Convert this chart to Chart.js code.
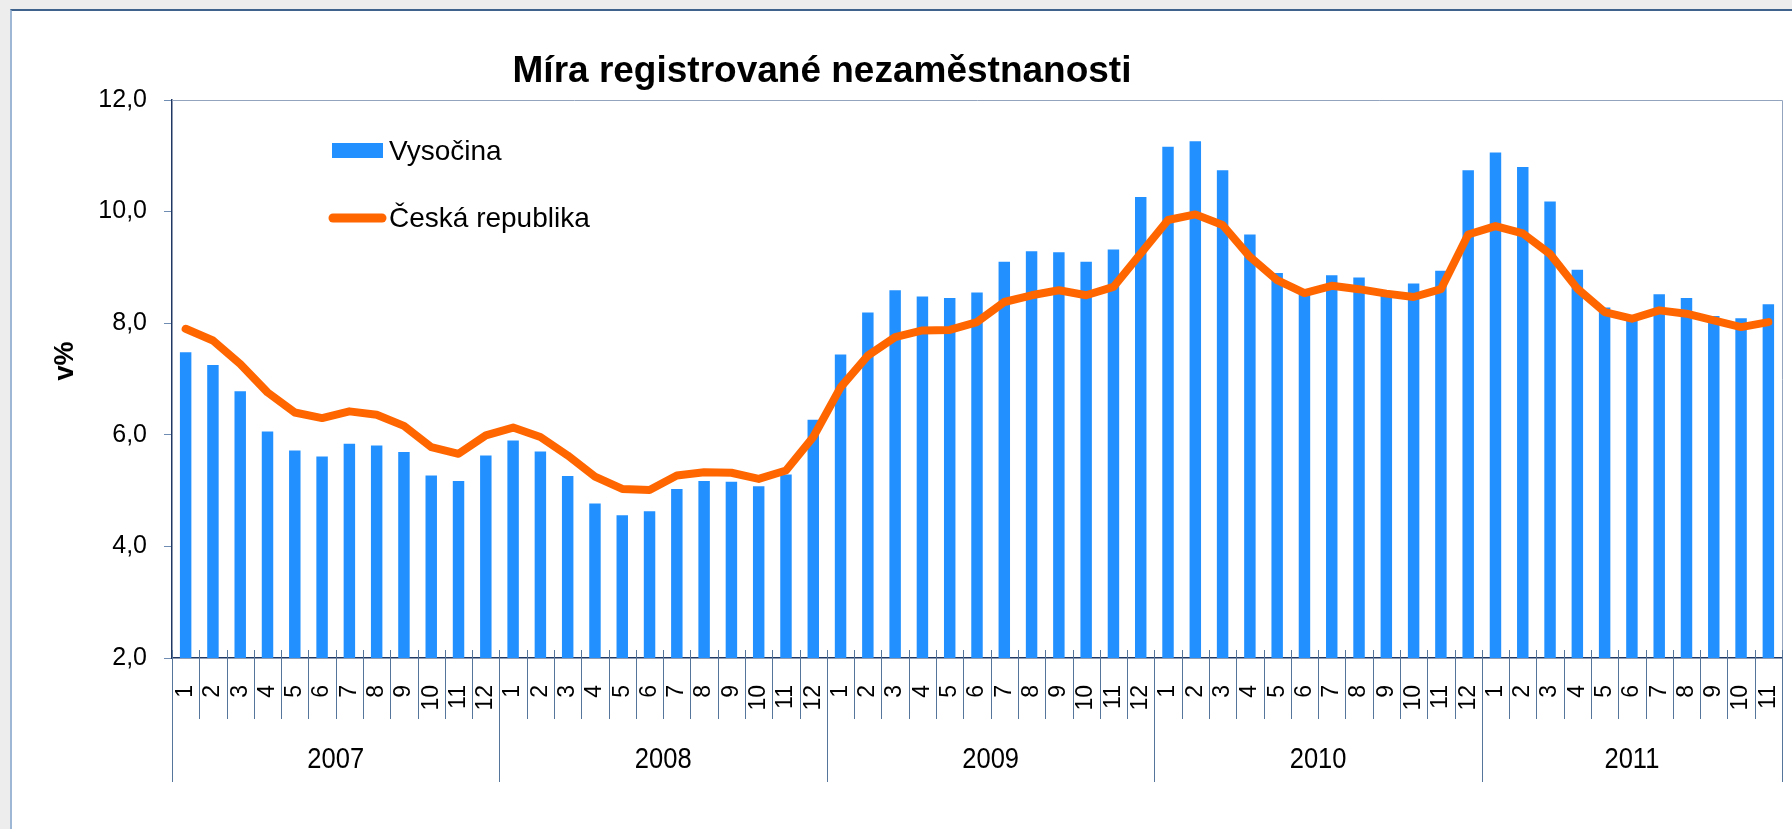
<!DOCTYPE html>
<html>
<head>
<meta charset="utf-8">
<script src="https://cdn.jsdelivr.net/npm/chart.js@4/dist/chart.umd.min.js"></script>
<style>
  html, body { margin: 0; padding: 0; background: #ededed; overflow: hidden; }
  #frame { position: absolute; left: 10px; top: 9px; width: 1782px; height: 820px; background: #fff;
           border-top: 2px solid #3f628c; border-left: 2px solid #9db7d4; }
  #chartBars { position: absolute; left: 0; top: 0; }
</style>
</head>
<body>
<div id="frame"></div>
<canvas id="chartBars" width="1792" height="829"></canvas>
<script>
const title = 'Míra registrované nezaměstnanosti'
const yTitle = 'v%'
const years = ['2007', '2008', '2009', '2010', '2011']
const monthsInYear = [12, 12, 12, 12, 11]
const monthLabels = [
  '1', '2', '3', '4', '5', '6', '7', '8', '9', '10', '11', '12',
  '1', '2', '3', '4', '5', '6', '7', '8', '9', '10', '11', '12',
  '1', '2', '3', '4', '5', '6', '7', '8', '9', '10', '11', '12',
  '1', '2', '3', '4', '5', '6', '7', '8', '9', '10', '11', '12',
  '1', '2', '3', '4', '5', '6', '7', '8', '9', '10', '11'
]

// Vysočina (bars)
const vysocina = [
  7.48, 7.25, 6.78, 6.06, 5.72, 5.61, 5.84, 5.81, 5.69, 5.27, 5.17, 5.63,
  5.90, 5.70, 5.26, 4.77, 4.56, 4.63, 5.03, 5.17, 5.16, 5.08, 5.29, 6.27,
  7.44, 8.19, 8.59, 8.48, 8.45, 8.55, 9.10, 9.29, 9.27, 9.10, 9.32, 10.26,
  11.16, 11.26, 10.74, 9.59, 8.90, 8.55, 8.86, 8.82, 8.55, 8.71, 8.94, 10.74,
  11.06, 10.80, 10.18, 8.96, 8.28, 8.08, 8.52, 8.45, 8.13, 8.09, 8.34
]

// Česká republika (line)
const ceskaRepublika = [
  7.90, 7.69, 7.27, 6.76, 6.40, 6.30, 6.42, 6.36, 6.16, 5.78, 5.66, 5.99,
  6.13, 5.96, 5.63, 5.25, 5.03, 5.01, 5.27, 5.33, 5.32, 5.21, 5.36, 5.96,
  6.85, 7.42, 7.75, 7.87, 7.88, 8.02, 8.38, 8.50, 8.59, 8.50, 8.65, 9.25,
  9.85, 9.95, 9.76, 9.19, 8.77, 8.54, 8.67, 8.61, 8.53, 8.47, 8.61, 9.59,
  9.74, 9.61, 9.24, 8.62, 8.20, 8.08, 8.23, 8.17, 8.05, 7.93, 8.02
]

const yTicks = [2, 4, 6, 8, 10, 12]

const FONT = '"Liberation Sans", Arial, sans-serif'
const BLUE = '#2291ff'
const ORANGE = '#ff6600'
const AXIS = '#1f3864'
const SEP = '#56759b'

// title, axis title, legend, month / year separators
const decor = {
  id: 'decor',
  afterDraw (chart) {
    const ctx = chart.ctx
    const xs = chart.scales.x
    const area = chart.chartArea
    ctx.save()

    // frame top + right
    ctx.strokeStyle = '#93a5be'
    ctx.lineWidth = 1
    ctx.beginPath()
    ctx.moveTo(area.left, area.top + 0.5)
    ctx.lineTo(area.right + 0.5, area.top + 0.5)
    ctx.lineTo(area.right + 0.5, area.bottom)
    ctx.stroke()

    // separators under the x axis
    const step = xs.getPixelForValue(1) - xs.getPixelForValue(0)
    const yearStarts = [0]
    monthsInYear.forEach((n, i) => yearStarts.push(yearStarts[i] + n))
    ctx.strokeStyle = SEP
    for (let i = 0; i <= monthLabels.length; i++) {
      const x = Math.round(xs.getPixelForValue(0) - step / 2 + i * step) + 0.5
      const isYear = yearStarts.includes(i)
      ctx.beginPath()
      ctx.moveTo(x, area.bottom - 8)
      ctx.lineTo(x, isYear ? 782 : 719)
      ctx.stroke()
    }

    // year labels
    ctx.fillStyle = '#000'
    ctx.textAlign = 'center'
    ctx.textBaseline = 'middle'
    years.forEach((y, i) => {
      const x0 = xs.getPixelForValue(yearStarts[i]) - step / 2
      const x1 = xs.getPixelForValue(yearStarts[i + 1] - 1) + step / 2
      ctx.save()
      ctx.translate((x0 + x1) / 2, 760)
      ctx.scale(0.88, 1)
      ctx.font = '29px ' + FONT
      ctx.fillText(y, 0, 0)
      ctx.restore()
    })

    // title
    ctx.font = 'bold 37px ' + FONT
    ctx.textBaseline = 'alphabetic'
    ctx.fillText(title, 822, 82)

    // y axis title
    ctx.save()
    ctx.translate(66, 361)
    ctx.rotate(-Math.PI / 2)
    ctx.font = 'bold 27px ' + FONT
    ctx.textBaseline = 'middle'
    ctx.fillText(yTitle, 0, 0)
    ctx.restore()

    // legend
    const bar = chart.data.datasets[1]
    const line = chart.data.datasets[0]
    ctx.textAlign = 'left'
    ctx.textBaseline = 'middle'
    ctx.font = '28px ' + FONT
    ctx.fillStyle = bar.backgroundColor
    ctx.fillRect(332, 143, 51, 15)
    ctx.fillStyle = '#000'
    ctx.fillText(bar.label, 389, 152)
    ctx.strokeStyle = line.borderColor
    ctx.lineWidth = 9
    ctx.lineCap = 'round'
    ctx.beginPath()
    ctx.moveTo(333, 218)
    ctx.lineTo(382, 218)
    ctx.stroke()
    ctx.fillText(line.label, 389, 219)

    ctx.restore()
  }
}

const config = {
  type: 'bar',
  data: {
    labels: monthLabels,
    datasets: [{
      type: 'line',
      label: 'Česká republika',
      data: ceskaRepublika,
      borderColor: ORANGE,
      backgroundColor: ORANGE,
      borderWidth: 8,
      borderJoinStyle: 'round',
      borderCapStyle: 'round',
      pointRadius: 0,
      tension: 0,
      order: 0
    }, {
      type: 'bar',
      label: 'Vysočina',
      data: vysocina,
      backgroundColor: BLUE,
      barPercentage: 0.42,
      categoryPercentage: 1,
      order: 1
    }]
  },
  options: {
    responsive: false,
    animation: false,
    devicePixelRatio: 1,
    layout: { padding: { top: 100, right: 10, left: 0, bottom: 0 } },
    plugins: {
      legend: { display: false },
      title: { display: false },
      tooltip: { enabled: false }
    },
    scales: {
      x: {
        offset: true,
        grid: { display: true, drawOnChartArea: false, drawTicks: false },
        border: { display: true, color: AXIS, width: 1.5 },
        ticks: {
          autoSkip: false,
          minRotation: 90,
          maxRotation: 90,
          padding: 27,
          color: '#000',
          font: { family: FONT, size: 23 }
        },
        afterFit: (scale) => {
          scale.height = 171
          scale.paddingLeft = 0
          scale.paddingRight = 0
        }
      },
      y: {
        min: 2,
        max: 12,
        afterBuildTicks: (scale) => { scale.ticks = yTicks.map(v => ({ value: v })) },
        grid: { display: true, drawOnChartArea: false, drawTicks: true, tickLength: 8, color: '#6f8db2' },
        border: { display: true, color: AXIS, width: 1.5 },
        ticks: {
          padding: 17,
          color: '#000',
          font: { family: FONT, size: 25 },
          callback: (v) => v.toFixed(1).replace('.', ',')
        },
        afterFit: (scale) => {
          scale.width = 172
          scale.paddingTop = 0
          scale.paddingBottom = 0
        }
      }
    }
  },
  plugins: [decor]
}

const canvas = document.getElementById('chartBars').getContext('2d')
window.unemploymentChart = new Chart(canvas, config)
</script>
</body>
</html>
